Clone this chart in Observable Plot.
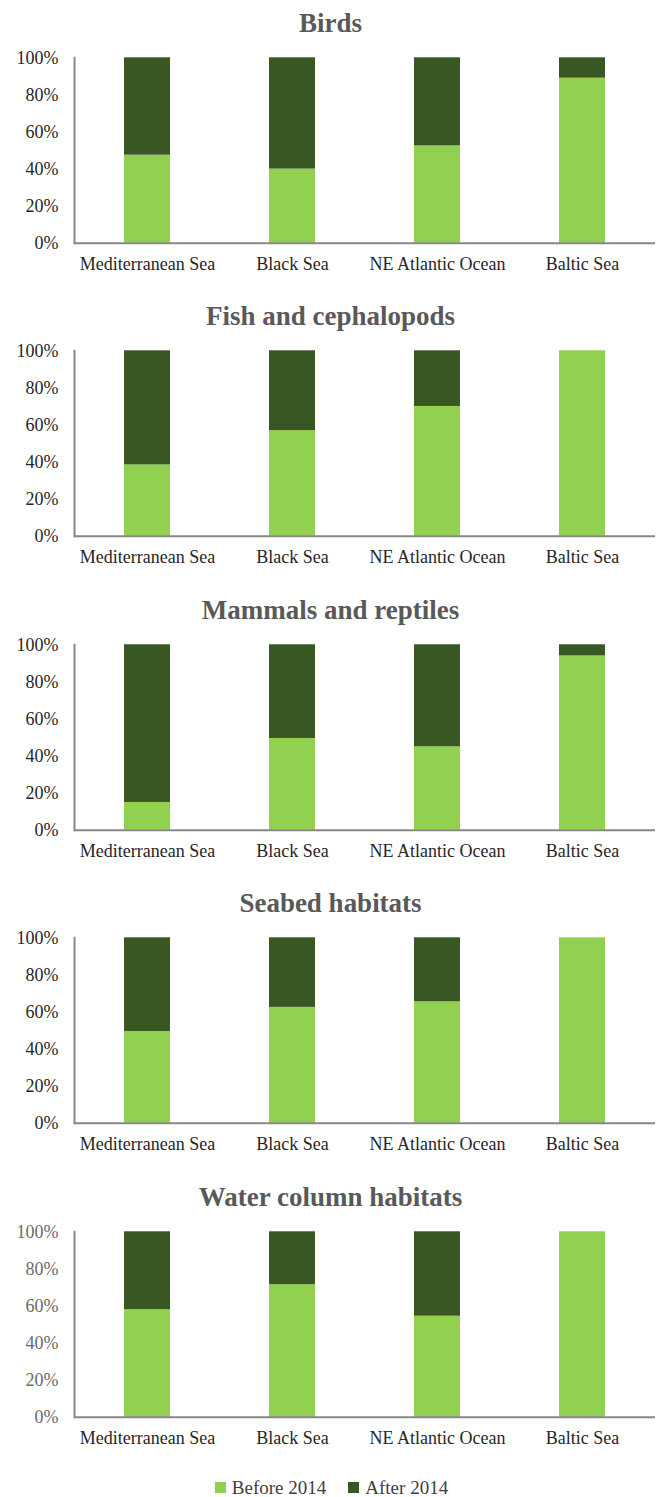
<!DOCTYPE html>
<html>
<head>
<meta charset="utf-8">
<script src="https://cdn.jsdelivr.net/npm/d3@7"></script>
<script src="https://cdn.jsdelivr.net/npm/@observablehq/plot@0.6"></script>
<style>
  html, body { margin: 0; padding: 0; background: #fff; }
  body { width: 661px; font-family: "Liberation Serif", "Times New Roman", serif; }
  #charts svg { display: block; }
  .legend { display: flex; justify-content: center; align-items: center; gap: 22px;
            padding-top: 10px; padding-left: 2px; font-size: 19px; line-height: 22px; color: #404040; }
  .legend .item { display: flex; align-items: center; gap: 6px; }
  .legend .sw { width: 11px; height: 11px; display: inline-block; }
</style>
</head>
<body>
<div id="charts"></div>
<div class="legend" id="legend"></div>
<script>
// Share of records per sea basin, before and after 2014 (percent)
const seas = ["Mediterranean Sea", "Black Sea", "NE Atlantic Ocean", "Baltic Sea"];
const periods = ["Before 2014", "After 2014"];
const periodColors = ["#92d050", "#385723"];
const yTicks = [0, 20, 40, 60, 80, 100];

const titles = ["Birds", "Fish and cephalopods", "Mammals and reptiles", "Seabed habitats", "Water column habitats"];

const birdsBefore = [47.5, 40, 52.5, 89];
const birdsAfter = [52.5, 60, 47.5, 11];
const fishBefore = [38.5, 57, 70, 100];
const fishAfter = [61.5, 43, 30, 0];
const mammalsBefore = [15, 49.5, 45, 94];
const mammalsAfter = [85, 50.5, 55, 6];
const seabedBefore = [49.5, 62.5, 65.5, 100];
const seabedAfter = [50.5, 37.5, 34.5, 0];
const waterBefore = [58, 71.5, 54.5, 100];
const waterAfter = [42, 28.5, 45.5, 0];

const panels = [
  {title: titles[0], before: birdsBefore, after: birdsAfter, tickColor: "#262626"},
  {title: titles[1], before: fishBefore, after: fishAfter, tickColor: "#262626"},
  {title: titles[2], before: mammalsBefore, after: mammalsAfter, tickColor: "#262626"},
  {title: titles[3], before: seabedBefore, after: seabedAfter, tickColor: "#262626"},
  {title: titles[4], before: waterBefore, after: waterAfter, tickColor: "#6a6a6a"}
];

const axisGray = "#878787";
const container = document.getElementById("charts");

for (const p of panels) {
  const rows = [];
  seas.forEach((s, i) => {
    rows.push({sea: s, period: periods[0], value: p.before[i]});
    rows.push({sea: s, period: periods[1], value: p.after[i]});
  });

  const chart = Plot.plot({
    width: 661,
    height: 293.4,
    marginTop: 57.3,
    marginBottom: 50.6,
    marginLeft: 74,
    marginRight: 6,
    style: {fontFamily: '"Liberation Serif", "Times New Roman", serif', fontSize: "18px", color: "#262626", background: "#fff"},
    x: {domain: seas, paddingInner: 0.684, paddingOuter: 0.342, axis: null},
    y: {domain: [0, 100], axis: null},
    color: {domain: periods, range: periodColors},
    marks: [
      Plot.barY(rows, {x: "sea", y: "value", fill: "period", inset: 0}),
      Plot.axisX({tickSize: 0, tickPadding: 14, fontSize: 18, color: "#262626", label: null}),
      Plot.axisY({ticks: yTicks, tickSize: 0, tickPadding: 16, fontSize: 18, label: null,
                  tickFormat: d => d + "%", color: p.tickColor}),
      Plot.ruleY([0], {stroke: axisGray, strokeWidth: 2}),
      Plot.frame({anchor: "left", stroke: axisGray, strokeWidth: 2}),
      Plot.text([p.title], {
        frameAnchor: "top", dx: -34.5, dy: -25.3, lineAnchor: "bottom",
        fontSize: 27, fontWeight: "bold", fill: "#595959"
      })
    ]
  });
  container.appendChild(chart);
}

// Legend below the stack of panels
const legend = document.getElementById("legend");
periods.forEach((name, i) => {
  const item = document.createElement("span");
  item.className = "item";
  const sw = document.createElement("span");
  sw.className = "sw";
  sw.style.background = periodColors[i];
  const label = document.createElement("span");
  label.textContent = name;
  item.appendChild(sw);
  item.appendChild(label);
  legend.appendChild(item);
});
</script>
</body>
</html>
